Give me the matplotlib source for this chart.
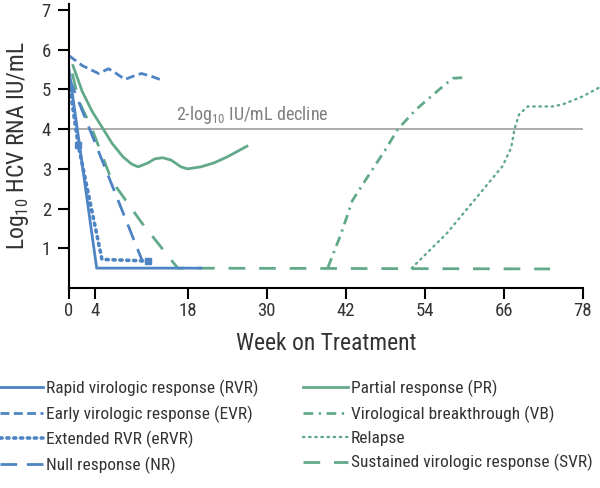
import matplotlib
matplotlib.use("Agg")
import matplotlib.pyplot as plt
from matplotlib import font_manager
from matplotlib.lines import Line2D

names = {f.name for f in font_manager.fontManager.ttflist}
fam = None
for cand in ["Liberation Sans Narrow", "Roboto Condensed", "Open Sans Condensed",
             "Roboto", "Open Sans", "DejaVu Sans"]:
    if cand in names:
        fam = cand
        break
plt.rcParams['font.family'] = [fam, 'DejaVu Sans']
plt.rcParams['mathtext.fontset'] = 'custom'
plt.rcParams['mathtext.rm'] = fam

BLUE = "#4f84c4"
GREEN = "#62a98a"
TEXT = "#333333"

# ---- data ----
rvr_x = [0, 4.2, 20]
rvr_y = [5.5, 0.5, 0.5]

evr_x = [0, 2, 4.5, 6, 7, 8.5, 10, 11, 12.5, 13.8]
evr_y = [5.85, 5.6, 5.4, 5.52, 5.42, 5.25, 5.35, 5.4, 5.33, 5.25]

ervr_x = [0, 1.4, 5, 12]
ervr_y = [5.2, 3.6, 0.72, 0.68]

nr_x = [0, 11.2]
nr_y = [5.3, 0.65]

pr_x = [0.6, 2, 3.5, 5.2, 6.5, 8.2, 9.5, 10.5, 12, 13, 14.2, 15.5, 17, 18, 20, 22, 24, 27]
pr_y = [5.6, 4.95, 4.45, 4.0, 3.65, 3.3, 3.12, 3.05, 3.15, 3.25, 3.28, 3.22, 3.05, 3.0, 3.05, 3.15, 3.3, 3.57]

vb_x = [39.3, 41.3, 43, 45.6, 48.2, 49.9, 52.7, 56.2, 58.2, 60.3]
vb_y = [0.52, 1.37, 2.2, 2.87, 3.53, 4.0, 4.5, 5.0, 5.28, 5.3]

rel_x = [52, 57.3, 63.3, 65.8, 67.1, 67.6, 68.3, 69.6, 73.3, 74.9, 77.9, 80.5]
rel_y = [0.5, 1.37, 2.57, 3.07, 3.53, 4.0, 4.37, 4.57, 4.57, 4.62, 4.82, 5.05]

svr_x = [0.5, 1.5, 3.5, 6.5, 11, 16.5, 73]
svr_y = [5.4, 4.7, 4.0, 2.7, 1.65, 0.5, 0.48]

decline_level = 4
x_ticks = [0, 4, 18, 30, 42, 54, 66, 78]
y_ticks = [1, 2, 3, 4, 5, 6, 7]

labels_left = ["Rapid virologic response (RVR)", "Early virologic response (EVR)",
               "Extended RVR (eRVR)", "Null response (NR)"]
labels_right = ["Partial response (PR)", "Virological breakthrough (VB)",
                "Relapse", "Sustained virologic response (SVR)"]

fig = plt.figure(figsize=(6.0, 4.88), dpi=100)
renderer = fig.canvas.get_renderer()

def fit_size(s, target_px, base=12.0):
    t = fig.text(0, 0, s, fontsize=base)
    w = t.get_window_extent(renderer=renderer).width
    t.remove()
    return base * target_px / w

leg_fs = min(fit_size(labels_right[3], 246), 12.5)
xlab_fs = min(fit_size("Week on Treatment", 202), 17)
ylab_fs = min(fit_size("Log$_\\mathregular{10}$ HCV RNA IU/mL", 235), 17)
dec_fs = min(fit_size("2-log$_\\mathregular{10}$ IU/mL decline", 156), 13)

ax = fig.add_axes([69/600, 1-288/488, (583-69)/600, 284/488])

ax.axhline(decline_level, color="#a6a6a6", lw=1.3, zorder=1)
ax.text(16.3, 4.08, "2-log$_\\mathregular{10}$ IU/mL decline", color="#7f7f7f",
        fontsize=dec_fs, ha="left", va="bottom")

styles = {
    "rvr": dict(color=BLUE, lw=2, ls="-"),
    "evr": dict(color=BLUE, lw=2, ls=(0, (3.2, 1.6))),
    "ervr": dict(color=BLUE, lw=2.6, ls=(0, (0.6, 1.3)), dash_capstyle="round"),
    "nr": dict(color=BLUE, lw=2, ls=(0, (6, 3.5))),
    "pr": dict(color=GREEN, lw=2, ls="-"),
    "vb": dict(color=GREEN, lw=2, ls=(0, (3.5, 2, 0.8, 2))),
    "rel": dict(color=GREEN, lw=1.7, ls=(0, (0.6, 2.0)), dash_capstyle="round"),
    "svr": dict(color=GREEN, lw=2, ls=(0, (6, 5))),
}

ax.plot(svr_x, svr_y, **styles["svr"])
ax.plot(vb_x, vb_y, **styles["vb"])
ax.plot(rel_x, rel_y, clip_on=False, **styles["rel"])
ax.plot(pr_x, pr_y, **styles["pr"])
ax.plot(rvr_x, rvr_y, **styles["rvr"])
ax.plot(evr_x, evr_y, **styles["evr"])
ax.plot(nr_x, nr_y, **styles["nr"])
ax.plot(ervr_x, ervr_y, **styles["ervr"])
ax.plot([ervr_x[1], ervr_x[-1]], [ervr_y[1], ervr_y[-1]], ls="none", marker="s",
        ms=4, color=BLUE)

ax.set_xlim(0, 78)
ax.set_ylim(0, 7.15)
ax.set_xticks(x_ticks)
ax.set_yticks(y_ticks)
ax.tick_params(axis="both", direction="out", length=8, width=1.5, color="black",
               labelsize=13.5, labelcolor=TEXT)
ax.tick_params(axis="x", pad=2)
ax.tick_params(axis="y", pad=5)
for s in ["top", "right"]:
    ax.spines[s].set_visible(False)
for s in ["left", "bottom"]:
    ax.spines[s].set_linewidth(1.5)
ax.set_xlabel("Week on Treatment", fontsize=xlab_fs, color=TEXT, labelpad=9)
ax.set_ylabel("Log$_\\mathregular{10}$ HCV RNA IU/mL", fontsize=ylab_fs, color=TEXT, labelpad=8)

def handles(keys):
    return [Line2D([], [], **styles[k]) for k in keys]

common = dict(frameon=False, fontsize=leg_fs, handlelength=43 / (leg_fs * 100 / 72),
              handletextpad=0.15, labelspacing=0.47, borderpad=0, borderaxespad=0,
              loc="upper left", labelcolor=TEXT)
leg1 = fig.legend(handles(["rvr", "evr", "ervr", "nr"]), labels_left,
                  bbox_to_anchor=(0.0, 1-380/488), **common)
common["handlelength"] = 45 / (leg_fs * 100 / 72)
leg2 = fig.legend(handles(["pr", "vb", "rel", "svr"]), labels_right,
                  bbox_to_anchor=(303/600, 1-380/488), **common)

fig.savefig("out.png", dpi=100)
